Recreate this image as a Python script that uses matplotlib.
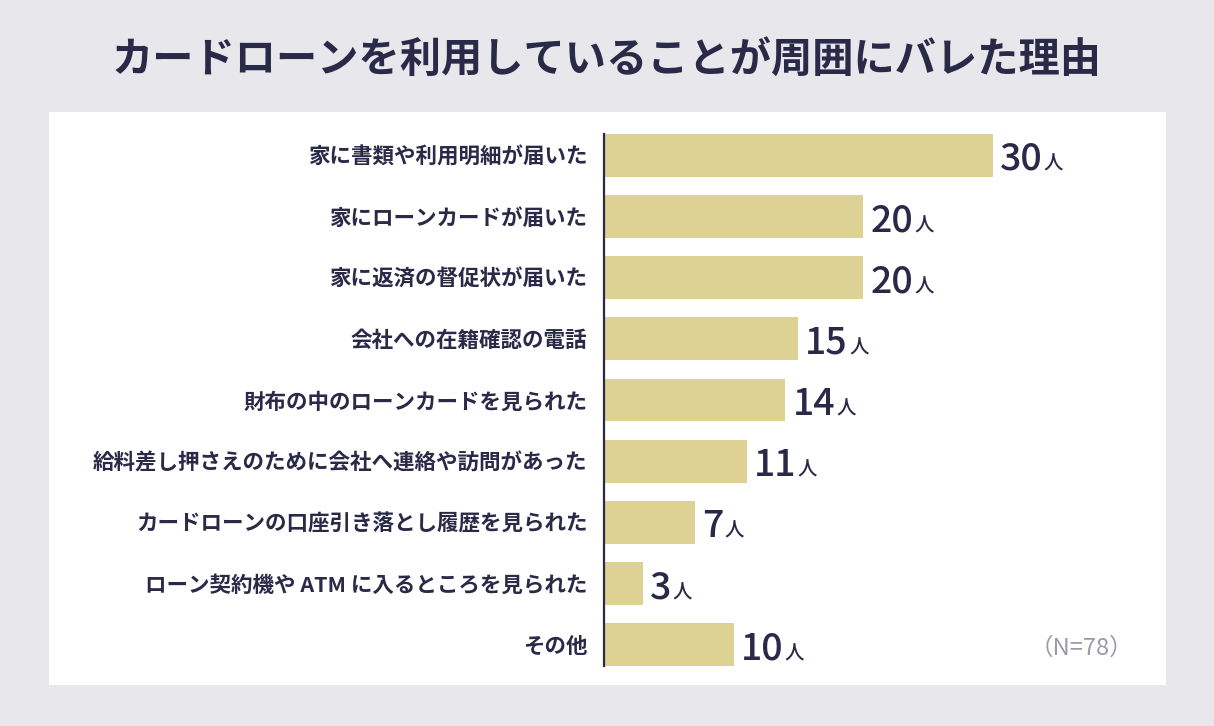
import matplotlib
matplotlib.use("Agg")
import matplotlib.pyplot as plt
from matplotlib.patches import Rectangle
from matplotlib.transforms import offset_copy

plt.rcParams["font.family"] = ["Noto Sans CJK JP", "DejaVu Sans"]

title = "カードローンを利用していることが周囲にバレた理由"
reasons = [
	"家に書類や利用明細が届いた",
	"家にローンカードが届いた",
	"家に返済の督促状が届いた",
	"会社への在籍確認の電話",
	"財布の中のローンカードを見られた",
	"給料差し押さえのために会社へ連絡や訪問があった",
	"カードローンの口座引き落とし履歴を見られた",
	"ローン契約機や ATM に入るところを見られた",
	"その他",
]
counts = [30, 20, 20, 15, 14, 11, 7, 3, 10]
unit = "人"
note = "（N=78）"

navy = "#2a2a48"
bar_color = "#ddd293"

fig = plt.figure(figsize = (12.14, 7.26), dpi = 100)
fig.patch.set_facecolor("#e8e8ec")

# white panel behind the chart
fig.patches.append(Rectangle((49 / 1214, 1 - 685 / 726), 1117 / 1214, 573 / 726,
	transform = fig.transFigure, facecolor = "white", edgecolor = "none", zorder = -5))

fig.text(0.5, 1 - 61 / 726, title, ha = "center", va = "center",
	fontsize = 29.7, fontweight = "bold", color = navy)

ax = fig.add_axes([604 / 1214, 1 - 666 / 726, 562 / 1214, 532 / 726])
ax.set_zorder(2)
ax.set_facecolor("none")
positions = list(range(len(reasons)))
ax.barh(positions, counts, height = 0.7, color = bar_color, zorder = 2)
ax.set_ylim(len(reasons) - 1 + 0.35, -0.35)
ax.set_xlim(0, 562 / 12.96)

ax.set_yticks(positions)
ax.set_yticklabels(reasons, fontsize = 15.5, fontweight = "bold", color = navy)
ax.tick_params(axis = "y", length = 0, pad = 12)
ax.set_xticks([])
for side in ("top", "right", "bottom"):
	ax.spines[side].set_visible(False)
ax.spines["left"].set_color(navy)
ax.spines["left"].set_linewidth(1.6)
ax.spines["left"].set_zorder(3)

fig.canvas.draw()
renderer = fig.canvas.get_renderer()
for pos, value in zip(positions, counts):
	# baseline sits ~14px below the bar centre so the digits are centred
	number = ax.annotate(str(value), (value, pos), xytext = (5, -10.5), textcoords = "offset points",
		ha = "left", va = "baseline", fontsize = 27, fontweight = "medium", color = navy)
	bbox = number.get_window_extent(renderer)
	x_end = ax.transData.inverted().transform((bbox.x1, bbox.y0))[0]
	trans = offset_copy(ax.transData, fig = fig, x = 1, y = -10.5, units = "points")
	ax.text(x_end, pos, unit, transform = trans, ha = "left", va = "baseline",
		fontsize = 14, fontweight = "medium", color = navy)

# full-width parens carry their own side bearing, hence the extra push right
fig.text(1133 / 1214, 1 - 648 / 726, note, ha = "right", va = "center",
	fontsize = 17, color = "#9b99a9")

fig.savefig("out.png", dpi = 100, facecolor = fig.get_facecolor())
